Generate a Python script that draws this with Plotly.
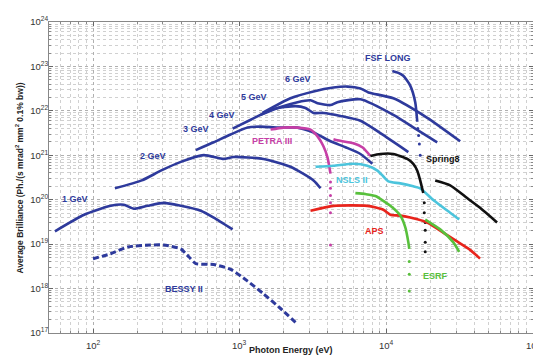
import numpy as np
import plotly.graph_objects as go

BLUE = "#2e3a9c"
MAGENTA = "#c63fa6"
CYAN = "#4cc4dc"
RED = "#e8241c"
GREEN = "#58c03c"
BLACK = "#111111"

# ---- data (photon energy in eV, brilliance) ----
gev1_E = [55, 87, 132, 162, 190, 236, 304, 397, 543, 665, 895]
gev1_B = [1.95e19, 4.6e19, 7.3e19, 7.7e19, 6.25e19, 7.3e19, 8.5e19, 7.3e19, 5.65e19, 3.96e19, 2.15e19]

bessy_E = [100, 132, 173, 248, 304, 356, 397, 450, 502, 665, 868, 1133, 1455, 1900, 2480]
bessy_B = [4.7e18, 6.07e18, 8.65e18, 9.58e18, 9.58e18, 8.65e18, 7.81e18, 5.2e18, 3.66e18, 3.48e18,
           2.70e18, 1.47e18, 7.6e17, 3.56e17, 1.58e17]

gev2_E = [141, 215, 290, 397, 569, 778, 910, 1455, 2220, 3190, 3560]
gev2_B = [1.8e20, 2.72e20, 4.5e20, 7.11e20, 1.01e21, 8.28e20, 9.17e20, 8.28e20, 5.52e20, 2.72e20, 1.81e20]

gev3_E = [502, 665, 868, 1133, 1390, 1815, 2480, 3190, 4160, 5260, 6660, 8030]
gev3_B = [1.31e21, 1.96e21, 2.94e21, 4.2e21, 4.42e21, 4.2e21, 4.2e21, 3.26e21, 2.07e21, 1.52e21, 1.07e21, 6.43e20]

gev4_E = [895, 1189, 1702, 2404, 2811, 3190, 3725, 4865, 6660, 9840, 14120]
gev4_B = [3.99e21, 6.3e21, 1.1e22, 1.28e22, 1.16e22, 8.98e21, 8.98e21, 7.7e21, 5.98e21, 2.66e21, 1.18e21]

gev5_E = [1390, 1900, 2480, 3040, 3395, 4160, 4640, 6660, 11160, 15740, 22230]
gev5_B = [8.11e21, 1.22e22, 1.57e22, 1.73e22, 1.49e22, 1.35e22, 1.57e22, 1.82e22, 8.11e21, 3.99e21, 1.96e21]

gev6_E = [1430, 2220, 3190, 4360, 5430, 6660, 7550, 11160, 19010, 31870]
gev6_B = [8.98e21, 1.92e22, 2.74e22, 3.35e22, 3.52e22, 3.19e22, 2.6e22, 1.92e22, 6.97e21, 2.07e21]

fsf_E = [10990, 12080, 13050, 14550, 15740, 16250]
fsf_B = [7.93e22, 7.16e22, 6.15e22, 3.71e22, 1.57e22, 5.69e21]
fsf_dot_E = [16400, 16600, 16800, 17020]
fsf_dot_B = [4.0e21, 2.8e21, 1.8e21, 1.0e21]

petra1_E = [1625, 1992, 2480, 3040, 3395, 3725, 3970, 4160]
petra1_B = [3.79e21, 4.2e21, 4.2e21, 3.79e21, 2.66e21, 1.6e21, 9.0e20, 3.87e20]
petra_dot_E = [4160, 4160, 4160, 4160, 4160, 4160]
petra_dot_B = [2.5e20, 1.8e20, 1.25e20, 8.5e19, 5.1e19, 9.58e18]
petra2_E = [4360, 4640, 5970, 6900, 7780]
petra2_B = [2.29e21, 2.17e21, 1.87e21, 1.5e21, 9.64e20]

spring1_E = [7780, 9100, 11160, 13900, 15270, 16250, 17020, 17850]
spring1_B = [9.64e20, 1.07e21, 1.07e21, 8.28e20, 6.43e20, 4.51e20, 2.72e20, 1.41e20]
spring_dot_E = [18140, 18140, 18420, 18420, 18420, 18420]
spring_dot_B = [8.5e19, 5.1e19, 3.08e19, 2.05e19, 1.11e19, 6.71e18]
spring2_E = [21540, 27240, 35560, 43550, 56890]
spring2_B = [2.72e20, 2.11e20, 1.09e20, 6.58e19, 3.08e19]

nsls_E = [3290, 4360, 5970, 7430, 8690, 9550, 10320, 12450, 15270, 17020, 20890, 27240, 31390]
nsls_B = [5.52e20, 5.81e20, 6.43e20, 5.81e20, 4.51e20, 3.33e20, 2.58e20, 2.33e20, 2.0e20, 1.81e20,
          9.87e19, 5.1e19, 3.58e19]

aps_E = [3040, 4360, 7430, 9550, 10650, 12450, 14550, 19010, 26000, 37240, 43550]
aps_B = [5.65e19, 7.28e19, 7.28e19, 5.94e19, 4.61e19, 4.39e19, 3.96e19, 3.08e19, 1.59e19, 7.43e18, 4.71e18]

esrf1_E = [6150, 7200, 8420, 10650, 12450, 13470, 14120, 14330]
esrf1_B = [1.41e20, 1.34e20, 1.21e20, 7.28e19, 4.39e19, 2.38e19, 1.11e19, 7.81e18]
esrf_dot_E = [14330, 14330, 14330]
esrf_dot_B = [4.05e18, 2.09e18, 8.85e17]
esrf2_E = [18420, 23290, 28560, 31390]
esrf2_B = [3.58e19, 2.15e19, 1.11e19, 6.71e18]

# labels: text, energy, brilliance, colour
labels = [
    ("1 GeV", 75.5, 1.04e20, BLUE),
    ("2 GeV", 256, 9.6e20, BLUE),
    ("3 GeV", 502, 3.99e21, BLUE),
    ("4 GeV", 755, 8.11e21, BLUE),
    ("5 GeV", 1245, 2.02e22, BLUE),
    ("6 GeV", 2480, 5.29e22, BLUE),
    ("FSF LONG", 10330, 1.53e23, BLUE),
    ("PETRA III", 1652, 2.07e21, MAGENTA),
    ("Spring8", 24430, 8.28e20, BLACK),
    ("NSLS II", 5875, 2.72e20, CYAN),
    ("APS", 8280, 1.95e19, RED),
    ("ESRF", 21540, 1.89e18, GREEN),
    ("BESSY II", 416, 9.8e17, BLUE),
]

x_tick_vals = [100, 1000, 10000, 100000]
x_tick_text = ["10<sup>2</sup>", "10<sup>3</sup>", "10<sup>4</sup>", "10<sup>5</sup>"]
y_tick_vals = [1e17, 1e18, 1e19, 1e20, 1e21, 1e22, 1e23, 1e24]
y_tick_text = ["10<sup>%d</sup>" % k for k in range(17, 25)]
x_minor_vals = [float(m) * 10.0 ** d for d in range(1, 5) for m in range(2, 10)]
y_minor_vals = [float(m) * 10.0 ** d for d in range(17, 24) for m in range(2, 10)]

fig = go.Figure()

def line(E, B, color, dash="solid", width=2.6):
    fig.add_trace(go.Scatter(x=E, y=B, mode="lines", showlegend=False,
                             line=dict(color=color, width=width, dash=dash, shape="spline", smoothing=0.6),
                             hoverinfo="skip"))

def dots(E, B, color):
    fig.add_trace(go.Scatter(x=E, y=B, mode="markers", showlegend=False,
                             marker=dict(color=color, size=3), hoverinfo="skip"))

line(gev1_E, gev1_B, BLUE)
line(bessy_E, bessy_B, BLUE, dash="6px,3px", width=3)
line(gev2_E, gev2_B, BLUE)
line(gev3_E, gev3_B, BLUE)
line(gev4_E, gev4_B, BLUE)
line(gev5_E, gev5_B, BLUE)
line(gev6_E, gev6_B, BLUE)
line(fsf_E, fsf_B, BLUE)
dots(fsf_dot_E, fsf_dot_B, BLUE)
line(petra1_E, petra1_B, MAGENTA)
dots(petra_dot_E, petra_dot_B, MAGENTA)
line(petra2_E, petra2_B, MAGENTA)
line(nsls_E, nsls_B, CYAN)
line(spring1_E, spring1_B, BLACK)
dots(spring_dot_E, spring_dot_B, BLACK)
line(spring2_E, spring2_B, BLACK)
line(aps_E, aps_B, RED)
line(esrf1_E, esrf1_B, GREEN)
dots(esrf_dot_E, esrf_dot_B, GREEN)
line(esrf2_E, esrf2_B, GREEN)

FONT = "Liberation Sans, Arial, sans-serif"
annotations = []
for text, e, b, c in labels:
    annotations.append(dict(x=np.log10(e), y=np.log10(b), xref="x", yref="y", text="<b>%s</b>" % text,
                            showarrow=False, font=dict(family=FONT, size=9, color=c)))
# x tick labels drawn as annotations just under the axis
for v, t in zip(x_tick_vals, x_tick_text):
    annotations.append(dict(x=np.log10(v), y=-0.012, xref="x", yref="paper", text=t,
                            showarrow=False, xanchor="center", yanchor="top",
                            font=dict(family=FONT, size=9.5, color="#333")))
annotations.append(dict(x=0.5, y=-0.078, xref="paper", yref="paper", text="<b>Photon Energy (eV)</b>",
                        showarrow=False, xanchor="center", yanchor="bottom",
                        font=dict(family=FONT, size=9, color="#222")))
annotations.append(dict(x=-0.06, y=0.5, xref="paper", yref="paper",
                        text="<b>Average Brilliance (Ph./(s mrad<sup>2</sup> mm<sup>2</sup> 0.1% bw))</b>",
                        showarrow=False, textangle=-90, xanchor="center", yanchor="middle",
                        font=dict(family=FONT, size=8.5, color="#222")))

def axis(minor_vals):
    return dict(type="log", showline=True, linecolor="#888", linewidth=1, mirror="ticks",
                ticks="inside", ticklen=4, tickcolor="#666",
                showgrid=True, gridcolor="#b0b0b0", griddash="dot", gridwidth=1,
                zeroline=False,
                tickfont=dict(family=FONT, size=9.5, color="#333"),
                minor=dict(tickmode="array", tickvals=minor_vals, showgrid=True, gridcolor="#d0d0d0",
                           griddash="dot", ticks="inside", ticklen=2, tickcolor="#888"))

# the page body has an 8px default margin, so the figure is 8px smaller and margins compensate
fig.update_layout(
    width=533, height=351,
    margin=dict(l=41, r=7, t=7, b=26),
    paper_bgcolor="white", plot_bgcolor="white",
    xaxis=dict(range=[1.7, 5.0], tickvals=x_tick_vals, showticklabels=False, **axis(x_minor_vals)),
    yaxis=dict(range=[17, 24], tickvals=y_tick_vals, ticktext=y_tick_text, ticklabelstandoff=-2,
               **axis(y_minor_vals)),
    annotations=annotations,
)

fig.write_html("out.html")
